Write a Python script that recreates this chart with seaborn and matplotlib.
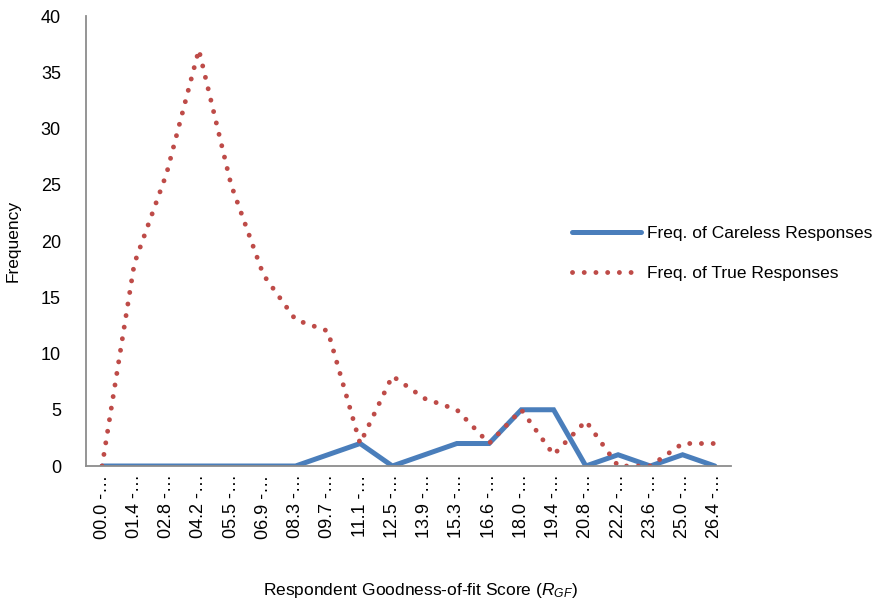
import pandas as pd
import matplotlib.pyplot as plt
import seaborn as sns

# bins of the goodness-of-fit score (labels are truncated like in the original)
bins = ["00.0", "01.4", "02.8", "04.2", "05.5", "06.9", "08.3", "09.7", "11.1", "12.5",
        "13.9", "15.3", "16.6", "18.0", "19.4", "20.8", "22.2", "23.6", "25.0", "26.4"]
careless = [0, 0, 0, 0, 0, 0, 0, 1, 2, 0, 1, 2, 2, 5, 5, 0, 1, 0, 1, 0]
true_resp = [0, 18, 26, 37, 25, 17, 13, 12, 2, 8, 6, 5, 2, 5, 1, 4, 0, 0, 2, 2]

labels = [b + " -\u2026" for b in bins]
df = pd.DataFrame({"bin": labels, "careless": careless, "true": true_resp})

sns.set_style("white", {"text.color": "black", "axes.labelcolor": "black",
                        "xtick.color": "black", "ytick.color": "black"})
plt.rcParams["font.family"] = ["Liberation Sans", "DejaVu Sans"]
plt.rcParams["mathtext.fontset"] = "custom"
plt.rcParams["mathtext.rm"] = "Liberation Sans"
plt.rcParams["mathtext.it"] = "Liberation Sans:italic"

fig = plt.figure(figsize=(8.79, 6.11), dpi=100)
ax = fig.add_axes([0.0978, 0.2373, 0.7338, 0.7365])

blue = "#4a7ebb"
red = "#be4b48"
sns.lineplot(data=df, x="bin", y="careless", ax=ax, color=blue, linewidth=3.6,
             sort=False, label="Freq. of Careless Responses", solid_joinstyle="miter")
sns.lineplot(data=df, x="bin", y="true", ax=ax, color=red, linewidth=3.5,
             sort=False, label="Freq. of True Responses",
             linestyle=(0, (0.01, 2.4)), dash_capstyle="round")

ax.set_xlim(-0.5, len(bins) - 0.5)
ax.set_ylim(0, 40)
ax.set_yticks(range(0, 41, 5))
ax.tick_params(axis="y", labelsize=13, length=0, pad=18, labelcolor="black")
ax.tick_params(axis="x", labelsize=13, length=0, pad=6, labelrotation=90, labelcolor="black")

for s in ["top", "right"]:
    ax.spines[s].set_visible(False)
for s in ["left", "bottom"]:
    ax.spines[s].set_color("#8c8c8c")
    ax.spines[s].set_linewidth(1.3)

ax.set_ylabel("Frequency", fontsize=12.5, color="black")
ax.yaxis.set_label_coords(-0.102, 0.5)
ax.set_xlabel("Respondent Goodness-of-fit Score ($R_{GF}$)", fontsize=12.5, color="black")
ax.xaxis.set_label_coords(0.518, -0.255)

leg = ax.legend(loc="center left", bbox_to_anchor=(0.6507, 0.585), bbox_transform=fig.transFigure,
                frameon=False, fontsize=12.5, handlelength=4.0, handletextpad=0.35,
                labelspacing=1.45, borderpad=0, borderaxespad=0)
for t in leg.get_texts():
    t.set_color("black")

fig.savefig("out.png", dpi=100)
